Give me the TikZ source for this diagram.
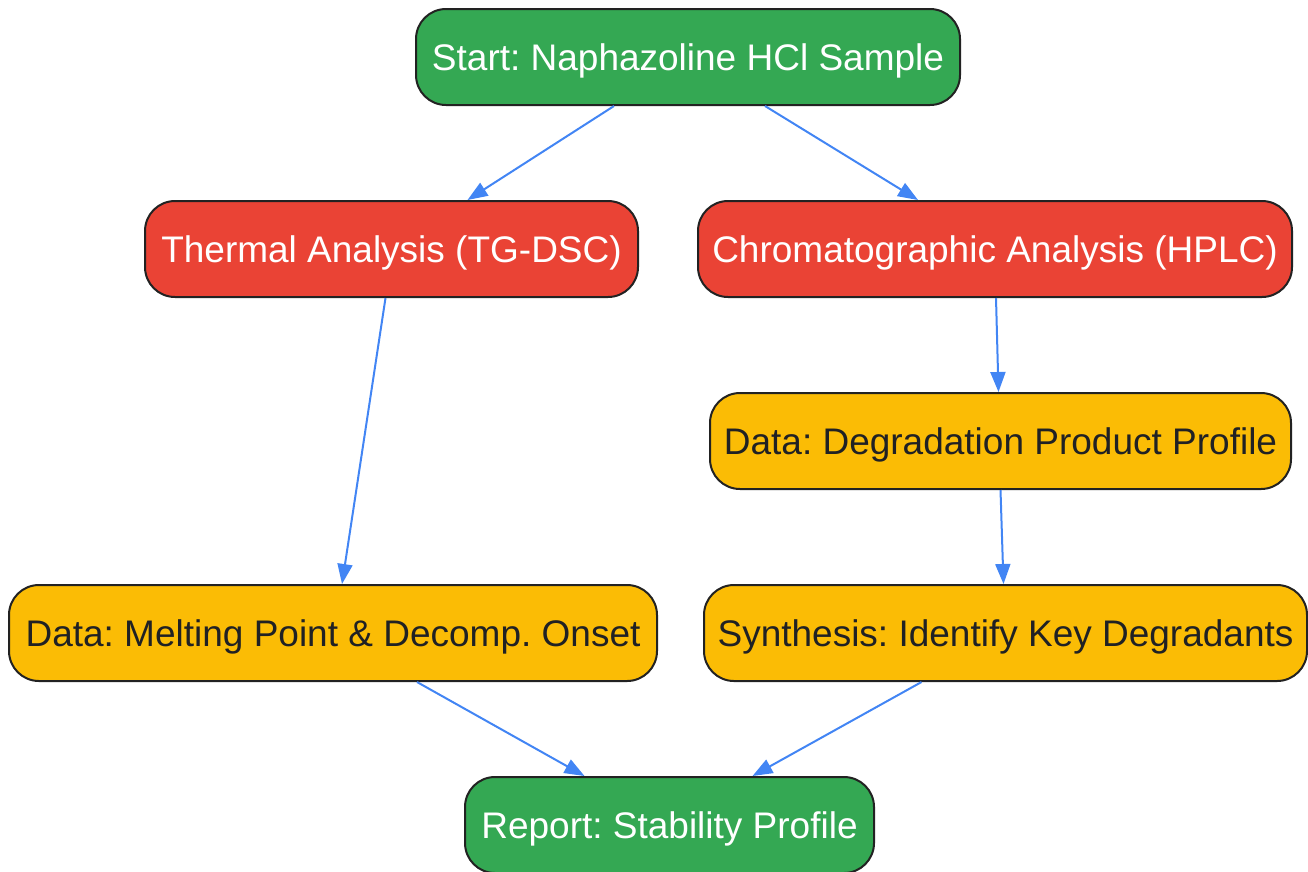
\documentclass[tikz,border=0pt]{standalone}
\usepackage{fontspec}
\setmainfont{Liberation Sans}
\usetikzlibrary{arrows.meta}

\definecolor{gstart}{HTML}{34A853}
\definecolor{ganalysis}{HTML}{EA4335}
\definecolor{gdata}{HTML}{FBBC05}
\definecolor{garrow}{HTML}{4285F4}
\definecolor{gborder}{HTML}{222222}
\definecolor{gtext}{HTML}{202124}

\begin{document}
\frenchspacing
\begin{tikzpicture}[x=1pt, y=-1pt,
    box/.style={draw=gborder, line width=2pt, rounded corners=30pt, minimum height=96pt,
        inner xsep=12pt, text height=27pt, text depth=0pt, font=\fontsize{37}{44}\selectfont},
    startbox/.style={box, fill=gstart, text=white},
    analysisbox/.style={box, fill=ganalysis, text=white},
    databox/.style={box, fill=gdata, text=gtext},
    flow/.style={draw=garrow, line width=2pt, -{Triangle[length=20pt, width=15pt]}}]
    \useasboundingbox (0,0) rectangle (1308,871);
    \node[startbox, minimum width=544pt] (start) at (688,57) {Start: Naphazoline HCl Sample};
    \node[analysisbox, minimum width=493pt] (thermal) at (391.5,249) {Thermal Analysis (TG-DSC)};
    \node[analysisbox, minimum width=594pt] (chrom) at (995,249) {Chromatographic Analysis (HPLC)};
    \node[databox, minimum width=581pt] (degprofile) at (1000.5,441) {Data: Degradation Product Profile};
    \node[databox, minimum width=648pt] (melting) at (333,633) {Data: Melting Point \& Decomp. Onset};
    \node[databox, minimum width=603pt] (degradants) at (1005.5,633) {Synthesis: Identify Key Degradants};
    \node[startbox, minimum width=409pt] (report) at (669.5,825) {Report: Stability Profile};
    \path ([xshift=-74]start.south) edge[flow] ([xshift=76]thermal.north);
    \path ([xshift=77]start.south) edge[flow] ([xshift=-77]chrom.north);
    \path ([xshift=-6]thermal.south) edge[flow] ([xshift=9]melting.north);
    \path ([xshift=1]chrom.south) edge[flow] ([xshift=-2]degprofile.north);
    \path ([xshift=0]degprofile.south) edge[flow] ([xshift=-2]degradants.north);
    \path ([xshift=84]melting.south) edge[flow] ([xshift=-85]report.north);
    \path ([xshift=-84]degradants.south) edge[flow] ([xshift=83]report.north);
\end{tikzpicture}
\end{document}
